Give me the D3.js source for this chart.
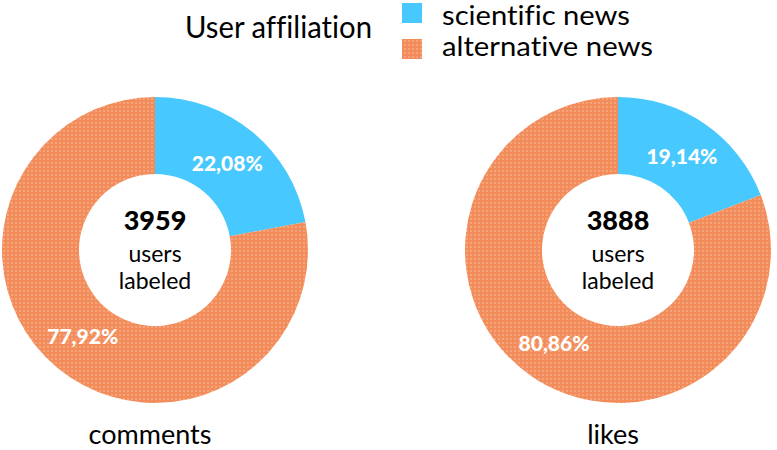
<!DOCTYPE html>
<html><head><meta charset="utf-8">
<script src="https://cdn.jsdelivr.net/npm/d3@7"></script>
<style>html,body{margin:0;padding:0;background:#fff;}svg{display:block;}text{font-variant-ligatures:none;font-feature-settings:"liga" 0;}</style>
</head><body>
<svg id="chart" width="777" height="450"></svg>
<script>
const categories = ["scientific news", "alternative news"];
const charts = ["comments", "likes"];
const totals = [3959, 3888];
const scientific = [22.08, 19.14];
const alternative = [77.92, 80.86];
const legendTitle = "User affiliation";

const svg = d3.select("#chart");
const FONT = "Lato, 'Open Sans', sans-serif";

const defs = svg.append("defs");
const pat = defs.append("pattern").attr("id","dots").attr("patternUnits","userSpaceOnUse")
  .attr("width",4).attr("height",4);
pat.append("rect").attr("width",4).attr("height",4).attr("fill","#F28D5B");
pat.append("rect").attr("x",0).attr("y",0).attr("width",2).attr("height",2).attr("fill","#F6A47B");

const color = d3.scaleOrdinal().domain(categories).range(["#47C8FE","url(#dots)"]);

const xScale = d3.scalePoint().domain(charts).range([155, 618]);
const cy = 250, rOuter = 153, rInner = 76;

const pie = d3.pie().sort(null).value(d => d.v);
const arc = d3.arc().innerRadius(rInner).outerRadius(rOuter);
const labelArc = d3.arc().innerRadius(113).outerRadius(113);
const fmt = v => d3.format(".2f")(v).replace(".", ",") + "%";

charts.forEach((name, i) => {
  const data = [{k: categories[0], v: scientific[i]}, {k: categories[1], v: alternative[i]}];
  const g = svg.append("g").attr("transform", `translate(${xScale(name)},${cy})`);
  const arcs = pie(data);
  g.selectAll("path").data(arcs).join("path")
    .attr("d", arc).attr("fill", d => color(d.data.k));
  g.selectAll("text.pct").data(arcs).join("text").attr("class","pct")
    .attr("transform", d => `translate(${labelArc.centroid(d)})`)
    .attr("text-anchor","middle").attr("dy","0.36em")
    .attr("font-family", FONT).attr("font-weight", 900).attr("font-size", 21)
    .attr("fill","#fff").text(d => fmt(d.data.v));
  g.append("text").attr("text-anchor","middle").attr("y",-20)
    .attr("font-family", FONT).attr("font-weight", 900).attr("font-size", 27)
    .attr("fill","#000").text(totals[i]);
  g.append("text").attr("text-anchor","middle").attr("y",12)
    .attr("font-family", FONT).attr("font-size", 23).attr("fill","#000").text("users");
  g.append("text").attr("text-anchor","middle").attr("y",39)
    .attr("font-family", FONT).attr("font-size", 23).attr("fill","#000").text("labeled");
  svg.append("text").attr("x", xScale(name) - 5).attr("y", 444).attr("text-anchor","middle")
    .attr("font-family", FONT).attr("font-size", 27).attr("fill","#000").text(name);
});

// legend
svg.append("text").attr("x",185).attr("y",38).attr("font-family",FONT).attr("font-size",30)
  .attr("fill","#000").attr("textLength",187).attr("lengthAdjust","spacingAndGlyphs").text(legendTitle);
const lg = svg.append("g");
const legendWidths = [188, 211];
categories.forEach((c, i) => {
  lg.append("rect").attr("x",402).attr("y",3 + i*36).attr("width",20).attr("height",20).attr("fill",color(c));
  lg.append("text").attr("x",442).attr("y",25 + i*31).attr("font-family",FONT).attr("font-size",26)
    .attr("textLength", legendWidths[i]).attr("lengthAdjust","spacingAndGlyphs")
    .attr("fill","#000").text(c);
});
</script>
</body></html>
